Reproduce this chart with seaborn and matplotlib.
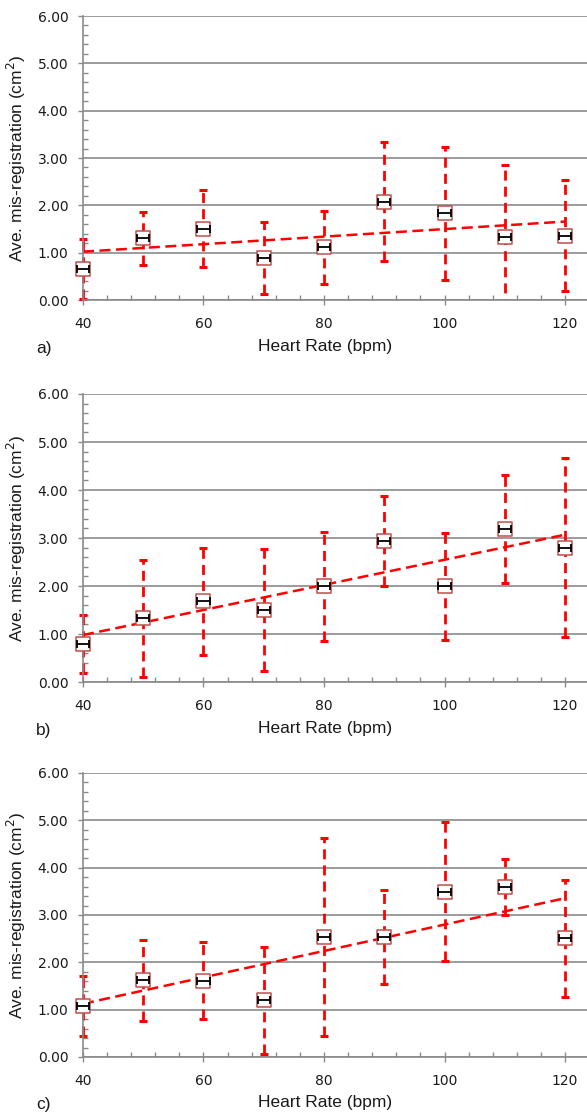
import numpy as np
import pandas as pd
import seaborn as sns
import matplotlib.pyplot as plt
from matplotlib.ticker import MultipleLocator, FormatStrFormatter
from matplotlib.transforms import Bbox, TransformedBbox

# Heart rate groups (bpm)
heart_rate = [40, 50, 60, 70, 80, 90, 100, 110, 120]

# Panel a) mean mis-registration (cm2) and standard deviation
mean_a = [0.65, 1.30, 1.51, 0.88, 1.11, 2.08, 1.83, 1.33, 1.36]
sd_a = [0.63, 0.55, 0.81, 0.76, 0.77, 1.26, 1.40, 1.53, 1.17]

# Panel b)
mean_b = [0.79, 1.33, 1.68, 1.50, 1.99, 2.94, 1.99, 3.19, 2.80]
sd_b = [0.60, 1.22, 1.12, 1.28, 1.13, 0.94, 1.11, 1.12, 1.87]

# Panel c)
mean_c = [1.08, 1.62, 1.61, 1.20, 2.53, 2.53, 3.49, 3.59, 2.51]
sd_c = [0.64, 0.85, 0.81, 1.13, 2.09, 0.99, 1.47, 0.59, 1.24]

# uncertainty on heart rate (bpm)
hr_err = 1.0

panels = [("a)", mean_a, sd_a), ("b)", mean_b, sd_b), ("c)", mean_c, sd_c)]

sns.set_theme(style="white")
plt.rcParams['font.family'] = ['DejaVu Sans']

W, H = 587, 1119
fig = plt.figure(figsize=(W / 100, H / 100), dpi=100)

# (top px, bottom px) of each plot area
boxes = [(16, 300), (394, 682), (773, 1057)]
left_px = 83
grey = '#8a8a8a'

for (tag, mean, sd), (top, bot) in zip(panels, boxes):
    ax = fig.add_axes([left_px / W, 1 - bot / H, 1 - left_px / W, (bot - top) / H])
    df = pd.DataFrame({'hr': heart_rate, 'mean': mean, 'sd': sd})
    # clip only at the bottom/top, allow marks to stick out left of the y axis
    clip = TransformedBbox(Bbox([[-0.1, 0], [1.1, 1.02]]), ax.transAxes)

    # trend line
    sns.regplot(data=df, x='hr', y='mean', scatter=False, ci=None, truncate=True,
                color='red', ax=ax,
                line_kws=dict(lw=1.8, ls=(0, (4.4, 2.2)), zorder=2))

    # vertical error bars (dashed red)
    eb = ax.errorbar(df['hr'], df['mean'], yerr=df['sd'], fmt='none',
                     ecolor='red', elinewidth=2.0, capsize=2.6, capthick=2.2, zorder=2.5)
    eb[2][0].set_linestyle((0, (3.6, 2.2)))
    for art in list(eb[1]) + list(eb[2]):
        art.set_clip_box(clip)

    # square markers
    sns.scatterplot(data=df, x='hr', y='mean', marker='s', s=105,
                    facecolor='white', edgecolor='#c0504d', linewidth=1.1,
                    ax=ax, zorder=3, clip_on=False)

    # horizontal error bars (black)
    hb = ax.errorbar(df['hr'], df['mean'], xerr=hr_err, fmt='none', ecolor='black',
                     elinewidth=1.3, capsize=2.6, capthick=1.3, zorder=4)
    for art in list(hb[1]) + list(hb[2]):
        art.set_clip_on(False)

    ax.set_xlim(40, 40 + (W - left_px) / 60.25 * 10)
    ax.set_ylim(0, 6)
    ax.xaxis.set_major_locator(MultipleLocator(20))
    ax.xaxis.set_minor_locator(MultipleLocator(4))
    ax.yaxis.set_major_locator(MultipleLocator(1))
    ax.yaxis.set_minor_locator(MultipleLocator(0.2))
    ax.yaxis.set_major_formatter(FormatStrFormatter('%.2f'))

    ax.grid(axis='y', which='major', color=grey, lw=1.2)
    ax.grid(axis='x', visible=False)
    for s in ['top', 'right']:
        ax.spines[s].set_visible(False)
    for s in ['left', 'bottom']:
        ax.spines[s].set_color(grey)
        ax.spines[s].set_linewidth(1.2)

    ax.tick_params(axis='x', which='major', direction='inout', length=7, width=1,
                   color=grey, labelsize=10, pad=9, labelcolor='#1a1a1a', bottom=True)
    ax.tick_params(axis='x', which='minor', direction='in', length=3.5, width=1,
                   color=grey, bottom=True)
    ax.tick_params(axis='y', which='major', direction='out', length=3.5, width=1,
                   color=grey, labelsize=10, pad=7, labelcolor='#1a1a1a', left=True)
    ax.tick_params(axis='y', which='minor', direction='in', length=3.5, width=1,
                   color=grey, left=True)

    ph = bot - top
    ax.set_xlabel("Heart Rate (bpm)", fontsize=12.5, family=['Liberation Sans'], color='#1a1a1a')
    ax.xaxis.set_label_coords(0.48, -46 / ph)
    ax.xaxis.label.set_verticalalignment('center')
    ax.set_ylabel("Ave. mis-registration (cm$^2$)", fontsize=12.5,
                  family=['Liberation Sans'], color='#1a1a1a')
    ax.yaxis.set_label_coords((16 - left_px) / (W - left_px), 0.5)
    ax.yaxis.label.set_verticalalignment('center')

    fig.text(36 / W, 1 - (bot + 48) / H, tag, fontsize=12.5, family=['Liberation Sans'],
             ha='left', va='center', color='#1a1a1a')

fig.savefig("out.png", dpi=100)
